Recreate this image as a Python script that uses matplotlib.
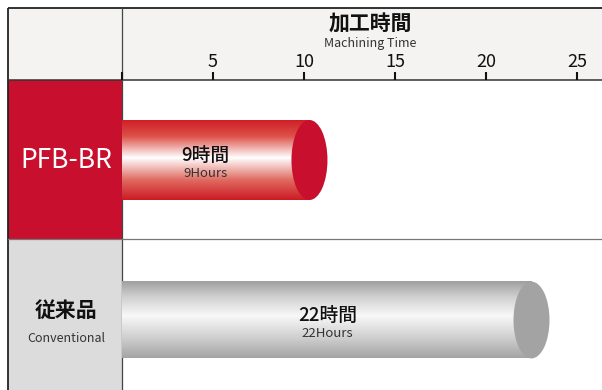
import matplotlib
matplotlib.use('Agg')
import matplotlib.pyplot as plt
import numpy as np
from matplotlib.patches import Ellipse, Rectangle
from matplotlib.colors import LinearSegmentedColormap

plt.rcParams['font.family'] = ['Noto Sans CJK JP', 'DejaVu Sans']

# ---- data ----
categories = ['PFB-BR', '従来品']
category_sub = ['', 'Conventional']
hours = [9, 22]
bar_extent = [10.3, 22.5]          # drawn cylinder length
value_labels = ['9時間', '22時間']
value_sublabels = ['9Hours', '22Hours']
xticks = [0, 5, 10, 15, 20, 25]
xtick_labels = ['', '5', '10', '15', '20', '25']
axis_title = '加工時間'
axis_subtitle = 'Machining Time'

# ---- layout ----
W, H = 602, 390
X0, Y0 = 122, 80          # data area origin in px
PX_PER_UNIT = 18.2
ROW_PX = 160.0
fig = plt.figure(figsize=(W / 100, H / 100), dpi=100)

bg = fig.add_axes([0, 0, 1, 1])
bg.set_xlim(0, W)
bg.set_ylim(H, 0)
bg.axis('off')

header_col = '#f4f3f1'
red = '#c8102e'
bg.add_patch(Rectangle((8, 8), W - 8, Y0 - 8, fc=header_col, ec='none'))
bg.add_patch(Rectangle((X0, Y0), W - X0, H - Y0, fc='white', ec='none'))
bg.add_patch(Rectangle((8, Y0), X0 - 8, 159, fc=red, ec='none'))
bg.add_patch(Rectangle((8, 239), X0 - 8, H - 239, fc='#dcdcdc', ec='none'))

bg.plot([8, W], [8, 8], color='#222222', lw=1.3, solid_capstyle='butt')
bg.plot([8, 8], [8, H], color='#222222', lw=1.3, solid_capstyle='butt')
bg.plot([8, W], [Y0, Y0], color='#333333', lw=1.1)
bg.plot([X0, X0], [8, H], color='#444444', lw=0.9)
bg.plot([8, W], [239, 239], color='#777777', lw=0.9)

# column labels
bg.text(66, 161, categories[0], color='white', fontsize=19, ha='center', va='center')
bg.text(66, 310, categories[1], color='#111111', fontsize=15, fontweight='bold',
        ha='center', va='center')
bg.text(66, 339, category_sub[1], color='#333333', fontsize=9, ha='center', va='center')

# header title
cx = (X0 + W) / 2
bg.text(cx + 8, 24, axis_title, fontsize=15, fontweight='bold', ha='center', va='center',
        color='#111111')
bg.text(cx + 8, 43, axis_subtitle, fontsize=9, ha='center', va='center', color='#333333')

# ---- data axes ----
ax = fig.add_axes([X0 / W, 0, (W - X0) / W, (H - Y0) / H])
ax.set_facecolor('none')
xmax = (W - X0) / PX_PER_UNIT
ymin = -0.5
ymax = (H - Y0) / ROW_PX - 0.5

red_cmap = LinearSegmentedColormap.from_list('r', [
    (0.0, '#cf1f27'), (0.2, '#dd5048'), (0.47, '#ffffff'),
    (0.75, '#e06a60'), (1.0, '#cc1a24')])
gray_cmap = LinearSegmentedColormap.from_list('g', [
    (0.0, '#9f9f9f'), (0.2, '#cfcfcf'), (0.45, '#f8f8f8'),
    (0.75, '#cdcdcd'), (1.0, '#a4a4a4')])
caps = [red, '#a3a3a3']
cmaps = [red_cmap, gray_cmap]
bar_h = [0.5, 0.48]
text_x = [4.6, 11.3]

grad = np.linspace(0, 1, 256).reshape(-1, 1)
for i, L in enumerate(bar_extent):
    yc = float(i)
    h = bar_h[i]
    ax.imshow(grad, cmap=cmaps[i], aspect='auto', origin='upper',
              extent=(0, L, yc + h / 2, yc - h / 2), interpolation='bilinear', zorder=2)
    ax.add_patch(Ellipse((L, yc), 36 / PX_PER_UNIT, h, fc=caps[i], ec='none', zorder=3))
    ax.text(text_x[i], yc - 0.03, value_labels[i], fontsize=13.5, fontweight='medium',
            ha='center', va='center', color='#111111', zorder=4)
    ax.text(text_x[i], yc + 0.085, value_sublabels[i], fontsize=9.5,
            ha='center', va='center', color='#333333', zorder=4)

ax.set_xlim(0, xmax)
ax.set_ylim(ymax, ymin)
ax.set_yticks([])
ax.xaxis.tick_top()
ax.set_xticks(xticks)
ax.set_xticklabels(xtick_labels)
ax.tick_params(axis='x', direction='out', length=5.5, width=1.5, pad=1,
               labelsize=13, colors='#111111')
for s in ax.spines.values():
    s.set_visible(False)

fig.savefig('out.png', dpi=100)
